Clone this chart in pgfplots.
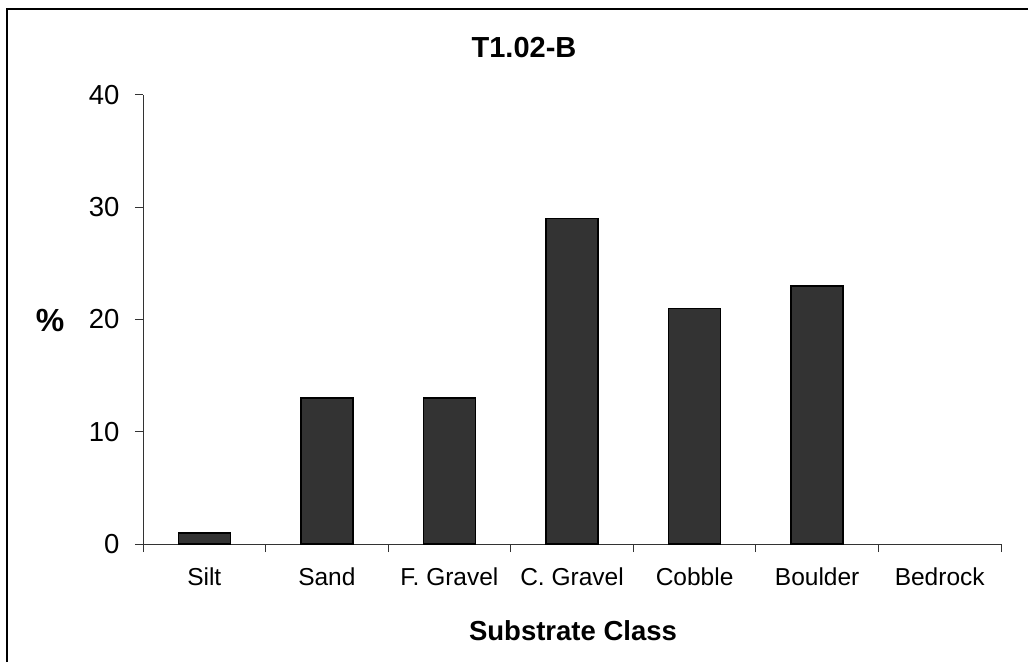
\documentclass[border=0pt]{standalone}
\usepackage{pgfplots}
\pgfplotsset{compat=1.18}
\usepackage{fontspec}
\setmainfont{Liberation Sans}
\definecolor{barfill}{HTML}{333333}

\begin{document}
\begin{tikzpicture}[x=1pt,y=1pt]
\useasboundingbox (0,0) rectangle (1028,662);
\draw[line width=2pt] (7,0) -- (7,653) -- (1028,653);
\begin{axis}[
  at={(143pt,118pt)}, anchor=south west,
  scale only axis, width=858pt, height=449pt,
  xmin=-0.5, xmax=6.5, ymin=0, ymax=40,
  axis lines*=left,
  axis line style={-, black!80, line width=1pt},
  xtick={0,...,6},
  xticklabels={Silt,Sand,F. Gravel,C. Gravel,Cobble,Boulder,Bedrock},
  major x tick style={draw=none},
  minor xtick={-0.5,0.5,...,6.5},
  ytick={0,10,20,30,40},
  tick align=outside, major tick length=8pt, minor tick length=8pt,
  tick style={black!80, line width=1pt},
  /pgf/number format/assume math mode=true,
  xticklabel style={font=\fontsize{24.5}{29}\selectfont, yshift=-12pt},
  yticklabel style={font=\fontsize{27.5}{33}\selectfont, xshift=-12pt},
  ybar, bar width=52pt,
  y filter/.expression={y<=0 ? nan : y},
]
\addplot[fill=barfill, draw=black, line width=1.5pt]
  coordinates {(0,1)(1,13)(2,13)(3,29)(4,21)(5,23)(6,0)};
\end{axis}
\node[font=\fontsize{29}{34}\selectfont\bfseries, anchor=base] at (524,604) {T1.02-B};
\node[font=\fontsize{32}{38}\selectfont\bfseries, anchor=base] at (50,330) {\%};
\node[font=\fontsize{27.5}{33}\selectfont\bfseries, anchor=base] at (573,22) {Substrate Class};
\end{tikzpicture}
\end{document}
